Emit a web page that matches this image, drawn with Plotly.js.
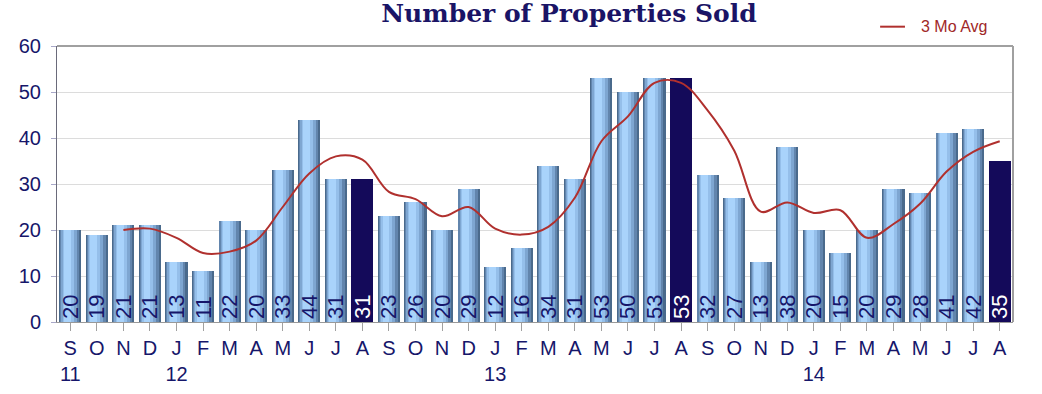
<!DOCTYPE html>
<html>
<head>
<meta charset="utf-8">
<script src="https://cdn.plot.ly/plotly-3.0.1.min.js"></script>
<style>html,body{margin:0;padding:0;background:#fff;}#chart{width:1042px;height:394px;}</style>
</head>
<body>
<div id="chart"></div>
<script>
const months = ["S","O","N","D","J","F","M","A","M","J","J","A","S","O","N","D","J","F","M","A","M","J","J","A","S","O","N","D","J","F","M","A","M","J","J","A"];
const years = ["11","","","","12","","","","","","","","","","","","13","","","","","","","","","","","","14","","","","","","",""];
const sold = [20,19,21,21,13,11,22,20,33,44,31,31,23,26,20,29,12,16,34,31,53,50,53,53,32,27,13,38,20,15,20,29,28,41,42,35];
const avg3 = [null,null,20,20.3,18.3,15,15.3,17.7,25,32.3,36,35.3,28.3,26.7,23,25,20.3,19,20.7,27,39.3,44.7,52,52,46,37.3,24,26,23.7,24.3,18.3,21.3,25.7,32.7,37,39.3];
const highlighted = [11,23,35];

const idx = sold.map((_, i) => i);
const ticktext = months.map((m, i) => years[i] ? m + "<br>" + years[i] : m);
const isHi = i => highlighted.includes(i);
const navy = "#140a5a";
const layers = [
  {w:0.83, off:-0.415, c:"#4a6a8c"},
  {w:0.72, off:-0.385, c:"#6285ad"},
  {w:0.58, off:-0.34, c:"#7ea6d1"},
  {w:0.42, off:-0.29, c:"#95bfea"},
  {w:0.26, off:-0.24, c:"#a9d3fb"}
];
const traces = layers.map(L => ({
  type:"bar", x: idx, y: sold,
  width: idx.map(() => L.w), offset: idx.map(() => L.off),
  marker:{color: idx.map(i => isHi(i) ? navy : L.c), line:{width:0}},
  showlegend:false, hoverinfo:"skip"
}));
traces.push({
  type:"bar", x: idx, y: sold,
  width: idx.map(() => 1.4), offset: idx.map(() => -0.7),
  marker:{color:"rgba(0,0,0,0)", line:{width:0}},
  text: sold.map(String), textposition:"inside", insidetextanchor:"start",
  textangle:-90, constraintext:"none",
  textfont:{family:"Liberation Sans, Arial, sans-serif", size:22, color: idx.map(i => isHi(i) ? "#ffffff" : "#16166a")},
  showlegend:false, hoverinfo:"skip"
});
traces.push({
  type:"scatter", mode:"lines", x: idx, y: avg3, name:"3 Mo Avg",
  line:{color:"#b0302e", width:2, shape:"spline", smoothing:1},
  connectgaps:false, showlegend:false
});

const layout = {
  width:1042, height:394,
  margin:{l:57, r:29, t:46, b:72},
  paper_bgcolor:"#ffffff", plot_bgcolor:"#ffffff",
  barmode:"overlay", bargap:0,
  title:{text:"<b>Number of Properties Sold</b>", x:0.546, xanchor:"center", yref:"container", y:0.966, yanchor:"middle",
    font:{family:"DejaVu Serif, serif", size:25, color:"#1a1466"}},
  xaxis:{
    range:[-0.5, 35.5], tickmode:"array", tickvals: idx, ticktext: ticktext,
    tickson:"boundaries", ticks:"outside", ticklen:8, tickcolor:"#a0a0a0",
    showline:true, linecolor:"#999999", linewidth:1, mirror:false,
    showgrid:false, zeroline:false,
    tickfont:{family:"Liberation Sans, Arial, sans-serif", size:20, color:"#16166a"}
  },
  yaxis:{
    range:[0,60], dtick:10, ticks:"outside", ticklen:5, tickcolor:"#a8a8c8",
    ticklabelstandoff:6,
    showline:true, linecolor:"#6a6a7a", linewidth:1,
    gridcolor:"#dcdcdc", gridwidth:1, zeroline:false,
    tickfont:{family:"Liberation Sans, Arial, sans-serif", size:20, color:"#16166a"}
  },
  shapes:[
    {type:"line", xref:"paper", yref:"paper", x0:0, x1:1, y0:1, y1:1, line:{color:"#a0a0a0", width:2}},
    {type:"line", xref:"paper", yref:"paper", x0:1, x1:1, y0:0, y1:1, line:{color:"#a0a0a0", width:2}},
    {type:"line", xref:"paper", yref:"paper", x0:0.861, x1:0.887, y0:1.07, y1:1.07, line:{color:"#b0302e", width:2}}
  ],
  annotations:[
    {xref:"paper", yref:"paper", x:0.902, y:1.07, xanchor:"left", yanchor:"middle", showarrow:false,
     text:"3 Mo Avg", font:{family:"Liberation Sans Narrow, Liberation Sans, Arial, sans-serif", size:16, color:"#a02828"}}
  ]
};
Plotly.newPlot("chart", traces, layout, {displayModeBar:false, staticPlot:true});
</script>
</body>
</html>
